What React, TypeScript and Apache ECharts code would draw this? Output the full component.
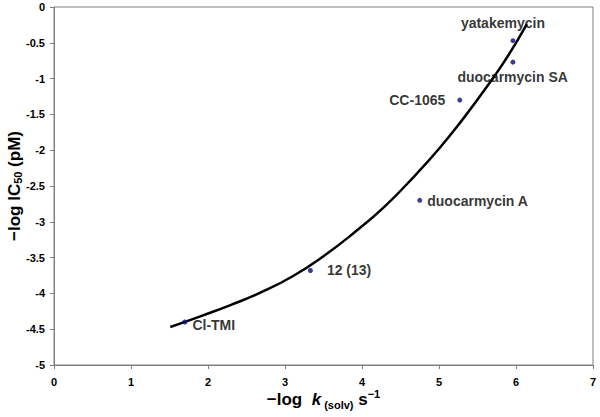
import React, { useEffect, useRef } from "react";
import * as echarts from "echarts";

// compounds (scatter points)
const compounds = ["yatakemycin", "duocarmycin SA", "CC-1065", "duocarmycin A", "12 (13)", "Cl-TMI"];
const logK = [5.96, 5.96, 5.27, 4.75, 3.33, 1.7];
const logIC50 = [-0.47, -0.77, -1.3, -2.7, -3.68, -4.4];

// trend curve
const trendX = [1.51, 1.9, 2.3, 2.7, 3.1, 3.5, 3.9, 4.3, 4.7, 5.0, 5.3, 5.55, 5.8, 6.0, 6.14];
const trendY = [-4.47, -4.32, -4.16, -3.98, -3.76, -3.48, -3.15, -2.78, -2.34, -1.98, -1.58, -1.22, -0.84, -0.5, -0.24];

const FONT = "'Liberation Sans', Arial, sans-serif";

// label placement per compound
const labelLayout: Record<string, any> = {
  yatakemycin: { position: "top", distance: 8, offset: [-10, 0] },
  "duocarmycin SA": { position: "right", distance: 0, offset: [-58, 15] },
  "CC-1065": { position: "left", distance: 12, offset: [0, 0] },
  "duocarmycin A": { position: "right", distance: 5, offset: [0, 1] },
  "12 (13)": { position: "right", distance: 14, offset: [0, 0] },
  "Cl-TMI": { position: "right", distance: 5, offset: [0, 3] },
};

export default function App() {
  const ref = useRef<HTMLDivElement>(null);
  useEffect(() => {
    document.body.style.margin = "0";
    if (!ref.current) return;
    const chart = echarts.init(ref.current, null, { renderer: "svg" });
    const axisGray = "#808080";
    chart.setOption({
      animation: false,
      backgroundColor: "#ffffff",
      grid: {
        left: 54,
        right: 7,
        top: 7,
        bottom: 52,
        outerBoundsMode: "none",
        containLabel: false,
        show: true,
        borderColor: axisGray,
        borderWidth: 1,
        backgroundColor: "transparent",
      },
      xAxis: {
        type: "value",
        min: 0,
        max: 7,
        interval: 1,
        axisLine: { show: true, onZero: false, lineStyle: { color: axisGray, width: 1 } },
        axisTick: { show: true, length: 4, lineStyle: { color: axisGray } },
        splitLine: { show: false },
        axisLabel: { color: "#000", fontSize: 11, fontWeight: "bold", fontFamily: FONT, margin: 11 },
        name: "{b|−log  }{i|k}{s| (solv)}{b| s}{sup|−1}",
        nameLocation: "middle",
        nameMoveOverlap: false,
        nameGap: 23,
        nameTextStyle: {
          color: "#000",
          fontFamily: FONT,
          rich: {
            b: { fontSize: 17, fontWeight: "bold", fontFamily: FONT, color: "#000", lineHeight: 22 },
            i: { fontSize: 17, fontWeight: "bold", fontStyle: "italic", fontFamily: FONT, color: "#000", lineHeight: 22 },
            s: { fontSize: 11, fontWeight: "bold", fontFamily: FONT, color: "#000", lineHeight: 11, verticalAlign: "bottom" },
            sup: { fontSize: 11, fontWeight: "bold", fontFamily: FONT, color: "#000", lineHeight: 11, verticalAlign: "top" },
          },
        },
      },
      yAxis: {
        type: "value",
        min: -5,
        max: 0,
        interval: 0.5,
        axisLine: { show: true, onZero: false, lineStyle: { color: axisGray, width: 1 } },
        axisTick: { show: true, length: 4, lineStyle: { color: axisGray } },
        splitLine: { show: false },
        axisLabel: { color: "#000", fontSize: 11, fontWeight: "bold", fontFamily: FONT, margin: 9 },
        name: "{b|−log IC}{s|50}{b| (pM)}",
        nameLocation: "middle",
        nameMoveOverlap: false,
        nameGap: 31,
        nameTextStyle: {
          color: "#000",
          fontFamily: FONT,
          rich: {
            b: { fontSize: 17, fontWeight: "bold", fontFamily: FONT, color: "#000", lineHeight: 17 },
            s: { fontSize: 11, fontWeight: "bold", fontFamily: FONT, color: "#000", lineHeight: 9, verticalAlign: "bottom" },
          },
        },
      },
      series: [
        {
          type: "line",
          data: trendX.map((x, i) => [x, trendY[i]]),
          smooth: true,
          showSymbol: false,
          lineStyle: { color: "#000", width: 2.5 },
          silent: true,
          z: 2,
        },
        {
          type: "scatter",
          symbol: "circle",
          symbolSize: 5,
          itemStyle: { color: "#0a0a80" },
          z: 3,
          data: compounds.map((name, i) => ({
            name,
            value: [logK[i], logIC50[i]],
            label: {
              show: true,
              formatter: name,
              color: "#000",
              fontSize: 14,
              fontWeight: "bold",
              fontFamily: FONT,
              ...labelLayout[name],
            },
          })),
        },
      ],
    });
    return () => chart.dispose();
  }, []);
  return <div ref={ref} style={{ width: 600, height: 417 }} />;
}
